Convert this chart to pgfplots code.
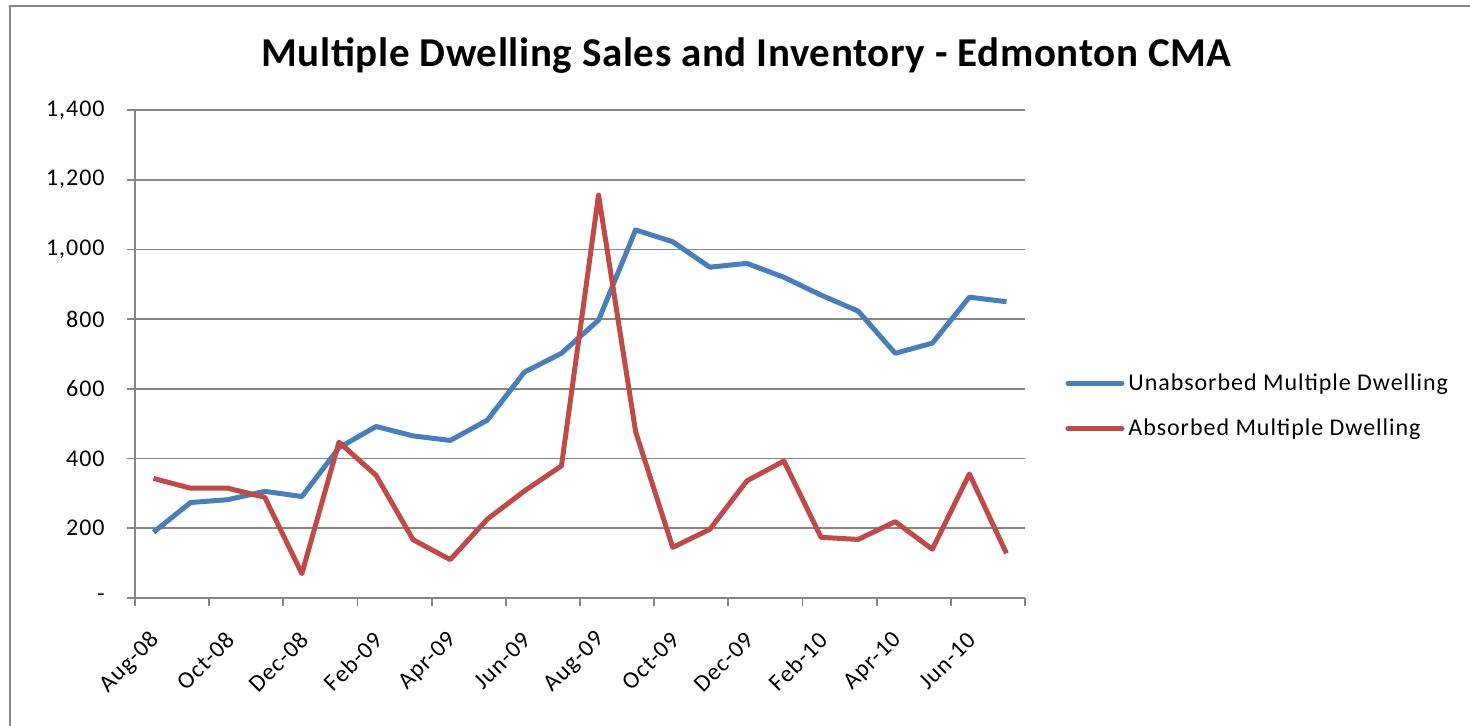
\documentclass[border=0pt]{standalone}
\usepackage{fontspec}
\setmainfont{Carlito}
\newfontfamily\lblfont[LetterSpace=4.0]{Carlito}
\newfontfamily\ttlfont[LetterSpace=1.5]{Carlito}
\usepackage{pgfplots}
\pgfplotsset{compat=1.18}
\definecolor{xlblue}{RGB}{74,126,187}
\definecolor{xlred}{RGB}{190,75,72}
\definecolor{xlgrid}{RGB}{134,134,134}
\begin{document}
\begin{tikzpicture}
\useasboundingbox (0pt,0pt) rectangle (735pt,363pt);
\draw[xlgrid, line width=1.2pt] (5pt,0pt) -- (5pt,360pt) -- (735pt,360pt);
\node[anchor=base, font=\ttlfont\bfseries\fontsize{20.5}{24}\selectfont, inner sep=0pt] at (373.25pt,329.6pt) {Multiple Dwelling Sales and Inventory - Edmonton CMA};
\begin{axis}[
  at={(67.5pt,64pt)}, anchor=south west,
  scale only axis, width=445pt, height=244pt,
  xmin=-0.5, xmax=23.5, ymin=0, ymax=1400,
  axis x line*=bottom, axis y line*=left,
  axis line style={xlgrid, line width=0.9pt, -},
  every tick/.style={xlgrid, line width=0.9pt},
  tick align=outside, major tick length=4pt,
  xtick={-0.5,1.5,...,23.5}, xticklabels={},
  extra x ticks={0.08,2.08,4.08,6.08,8.08,10.08,12.08,14.08,16.08,18.08,20.08,22.08},
  extra x tick labels={Aug-08,Oct-08,Dec-08,Feb-09,Apr-09,Jun-09,Aug-09,Oct-09,Dec-09,Feb-10,Apr-10,Jun-10},
  extra x tick style={major tick length=0pt, xticklabel style={rotate=45, anchor=east, font=\lblfont\fontsize{12}{14}\selectfont, inner sep=0pt}},
  xticklabel shift=19pt,
  ytick={0,200,...,1400},
  yticklabels={{-},200,400,600,800,{1,000},{1,200},{1,400}},
  yticklabel style={font=\lblfont\fontsize{12}{14}\selectfont, anchor=east, inner sep=0pt},
  yticklabel shift=11pt,
  /pgf/number format/assume math mode=true,
  ymajorgrids, major grid style={xlgrid, line width=0.9pt},
  clip=false,
  legend style={draw=none, fill=none, at={(rel axis cs:1.045,0.3934)}, anchor=west, inner sep=0pt,
    font=\lblfont\fontsize{12}{14}\selectfont, row sep=9pt, cells={anchor=west},
    /tikz/every odd column/.append style={column sep=0pt}},
  legend image code/.code={\draw[#1, line cap=round] (0pt,0pt) -- (27pt,0pt);},
]
\addplot[xlblue, line width=2.5pt, line join=round] coordinates {
(0,189) (1,274) (2,282) (3,306) (4,291) (5,431) (6,492) (7,465) (8,452) (9,510) (10,648) (11,702)
(12,797) (13,1056) (14,1022) (15,949) (16,960) (17,920) (18,869) (19,823) (20,702) (21,731) (22,863) (23,850)};
\addlegendentry{Unabsorbed Multiple Dwelling}
\addplot[xlred, line width=2.5pt, line join=round] coordinates {
(0,343) (1,315) (2,315) (3,289) (4,70) (5,447) (6,352) (7,167) (8,110) (9,226) (10,307) (11,379)
(12,1156) (13,477) (14,145) (15,197) (16,336) (17,393) (18,174) (19,168) (20,219) (21,140) (22,356) (23,128)};
\addlegendentry{Absorbed Multiple Dwelling}
\end{axis}
\end{tikzpicture}
\end{document}
